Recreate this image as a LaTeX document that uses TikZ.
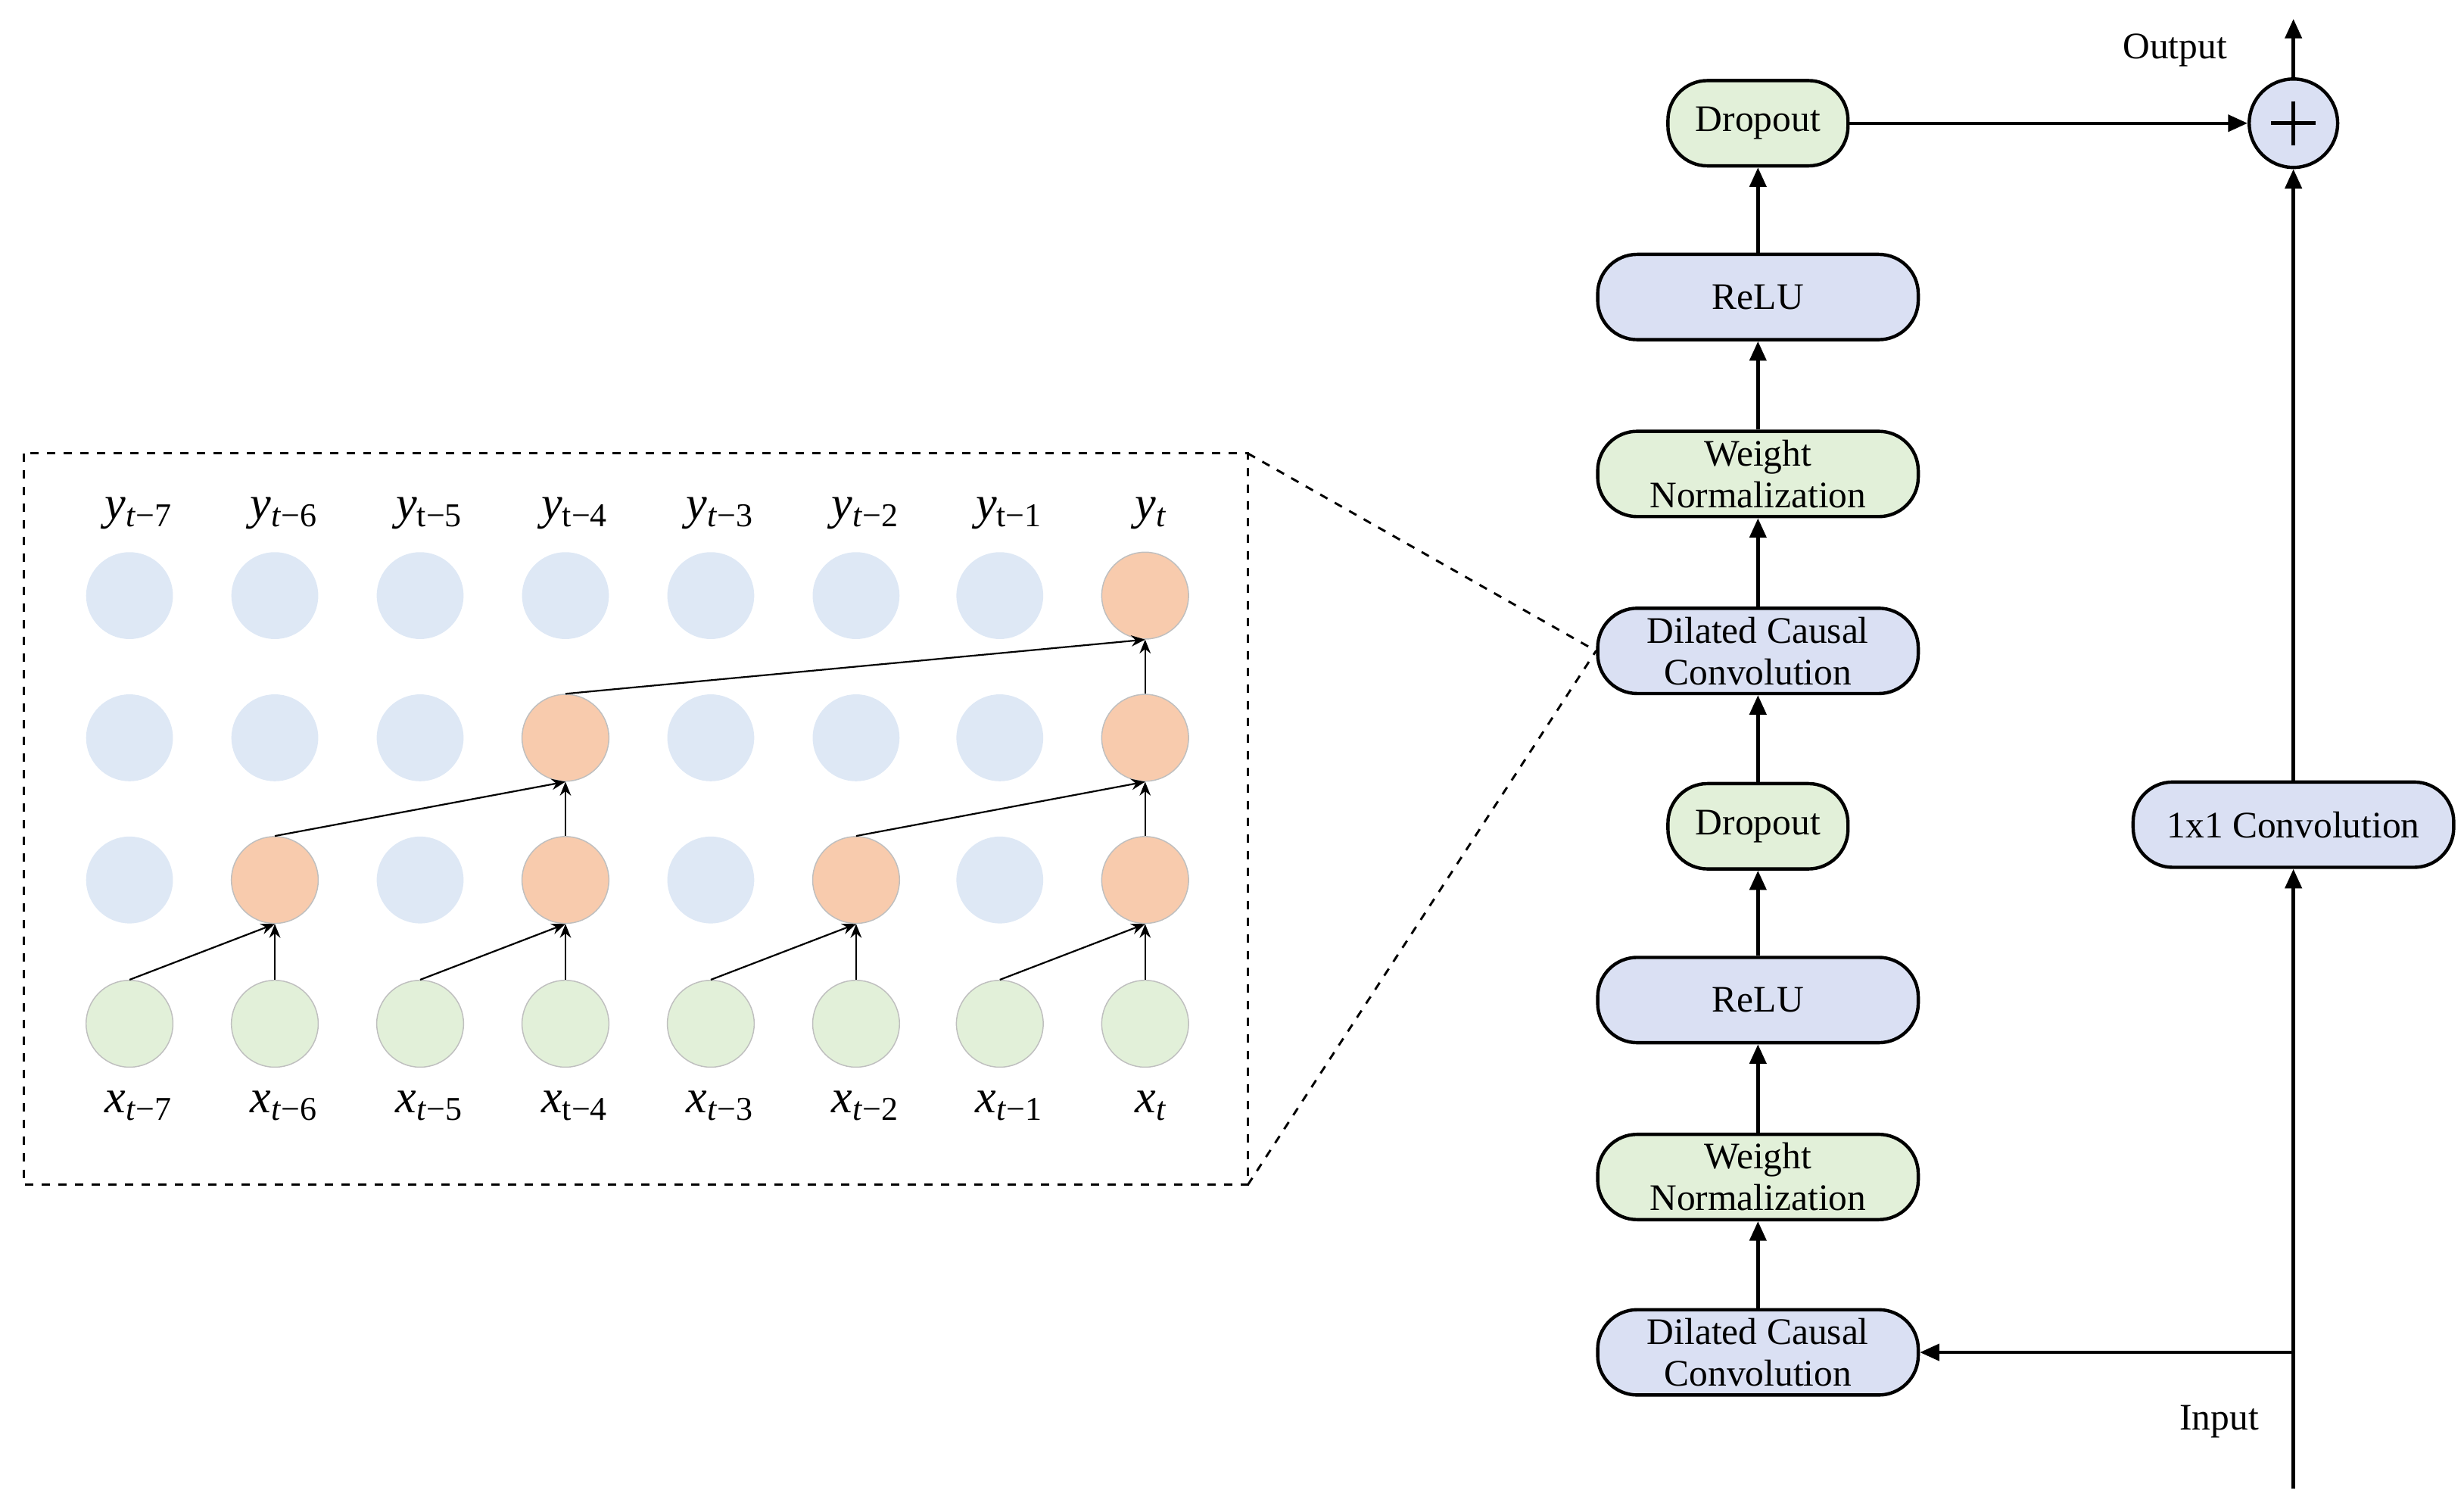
\documentclass[tikz,border=0pt]{standalone}
\usepackage{fontspec}
\setmainfont{Liberation Serif}
\usetikzlibrary{arrows.meta}
\definecolor{gfill}{HTML}{E2F0D9}
\definecolor{bfill}{HTML}{DAE0F3}
\definecolor{pale}{HTML}{DEE8F5}
\definecolor{orng}{HTML}{F8CBAD}
\newcommand{\lb}[3]{\textit{#1}\textsubscript{\fontsize{12}{12}\selectfont #2#3}}
\begin{document}
\begin{tikzpicture}[x=0.02cm,y=-0.02cm,
 box/.style={draw,line width=1.2pt,rounded corners=0.5cm,minimum height=1.08cm,align=center,font=\fontsize{13.5}{15}\selectfont,inner sep=1pt},
 gb/.style={box,fill=gfill,minimum width=2.28cm},
 bb/.style={box,fill=bfill,minimum width=4.06cm},
 arr/.style={-{Triangle[length=7pt,width=6pt]},line width=1.2pt},
 c/.style={circle,minimum size=1.1cm,inner sep=0pt,draw=gray!50,line width=0.4pt},
 pa/.style={c,fill=pale,draw=none},
 og/.style={c,fill=orng},
 gr/.style={c,fill=gfill},
 sa/.style={-{Stealth[length=5pt,width=4pt]},line width=0.6pt},
 lab/.style={font=\fontsize{17}{17}\selectfont}]
\useasboundingbox (0,0) rectangle (1560,953);
% right column
\node[gb] (d2) at (1113,78) {Dropout};
\node[bb] (r2) at (1113,188) {ReLU};
\node[gb,minimum width=4.06cm] (w2) at (1113,300) {Weight\\Normalization};
\node[bb] (c2) at (1113,412) {Dilated Causal\\Convolution};
\node[gb] (d1) at (1113,523) {Dropout};
\node[bb] (r1) at (1113,633) {ReLU};
\node[gb,minimum width=4.06cm] (w1) at (1113,745) {Weight\\Normalization};
\node[bb] (c1) at (1113,856) {Dilated Causal\\Convolution};
\node[bb] (one) at (1452,522) {1x1 Convolution};
\node[circle,draw,fill=bfill,line width=1.2pt,minimum size=1.12cm,inner sep=0pt] (plus) at (1452,78) {};
\draw[line width=1.4pt] (1438,78)--(1466,78) (1452,64)--(1452,92);
\node[font=\fontsize{13.5}{15}\selectfont] (out) at (1377,32) {Output};
\node[font=\fontsize{13.5}{15}\selectfont] (inp) at (1405,900) {Input};
\coordinate (bot) at (1452,942);
\coordinate (br) at (1452,856);
\coordinate (top) at (1452,12);
\draw[arr] (c1)--(w1); \draw[arr] (w1)--(r1); \draw[arr] (r1)--(d1);
\draw[arr] (d1)--(c2); \draw[arr] (c2)--(w2); \draw[arr] (w2)--(r2); \draw[arr] (r2)--(d2);
\draw[arr] (d2)--(plus); \draw[arr] (plus)--(top);
\draw[arr] (bot)--(one); \draw[arr] (one)--(plus);
\draw[arr] (br)--(c1.east);
% left panel
\draw[dashed,line width=0.8pt] (15,287) rectangle (790,750);
\coordinate (p1) at (790,287); \coordinate (p2) at (790,750);
\draw[dashed,line width=0.8pt] (p1)--(c2.west) (p2)--(c2.west);
\foreach \i/\x in {0/82,1/174,2/266,3/358,4/450,5/542,6/633,7/725}{
  \node[gr] (a\i) at (\x,648) {};
  \node[pa] (b\i) at (\x,557) {};
  \node[pa] (e\i) at (\x,467) {};
  \node[pa] (f\i) at (\x,377) {};
}
\foreach \i/\x in {1/174,3/358,5/542,7/725}{\node[og] (b\i) at (\x,557) {};}
\foreach \i/\x in {3/358,7/725}{\node[og] (e\i) at (\x,467) {};}
\node[og] (f7) at (725,377) {};
\foreach \k/\j in {1/0,3/2,5/4,7/6}{\draw[sa] (a\j.north)--(b\k.south); \draw[sa] (a\k.north)--(b\k.south);}
\draw[sa] (b1.north)--(e3.south); \draw[sa] (b3.north)--(e3.south); \draw[sa] (b5.north)--(e7.south); \draw[sa] (b7.north)--(e7.south);
\draw[sa] (e3.north)--(f7.south); \draw[sa] (e7.north)--(f7.south);
\node[lab] (y0) at (88,325) {\lb{y}{\textit{t}}{−7}};
\node[lab] (y1) at (180,325) {\lb{y}{\textit{t}}{−6}};
\node[lab] (y2) at (272,325) {\lb{y}{t}{−5}};
\node[lab] (y3) at (364,325) {\lb{y}{t}{−4}};
\node[lab] (y4) at (456,325) {\lb{y}{\textit{t}}{−3}};
\node[lab] (y5) at (548,325) {\lb{y}{\textit{t}}{−2}};
\node[lab] (y6) at (639,325) {\lb{y}{t}{−1}};
\node[lab] (y7) at (729,325) {\lb{y}{\textit{t}}{}};
\node[lab] (x0) at (88,700) {\lb{x}{\textit{t}}{−7}};
\node[lab] (x1) at (180,700) {\lb{x}{\textit{t}}{−6}};
\node[lab] (x2) at (272,700) {\lb{x}{\textit{t}}{−5}};
\node[lab] (x3) at (364,700) {\lb{x}{t}{−4}};
\node[lab] (x4) at (456,700) {\lb{x}{\textit{t}}{−3}};
\node[lab] (x5) at (548,700) {\lb{x}{\textit{t}}{−2}};
\node[lab] (x6) at (639,700) {\lb{x}{\textit{t}}{−1}};
\node[lab] (x7) at (729,700) {\lb{x}{\textit{t}}{}};
\end{tikzpicture}
\end{document}
